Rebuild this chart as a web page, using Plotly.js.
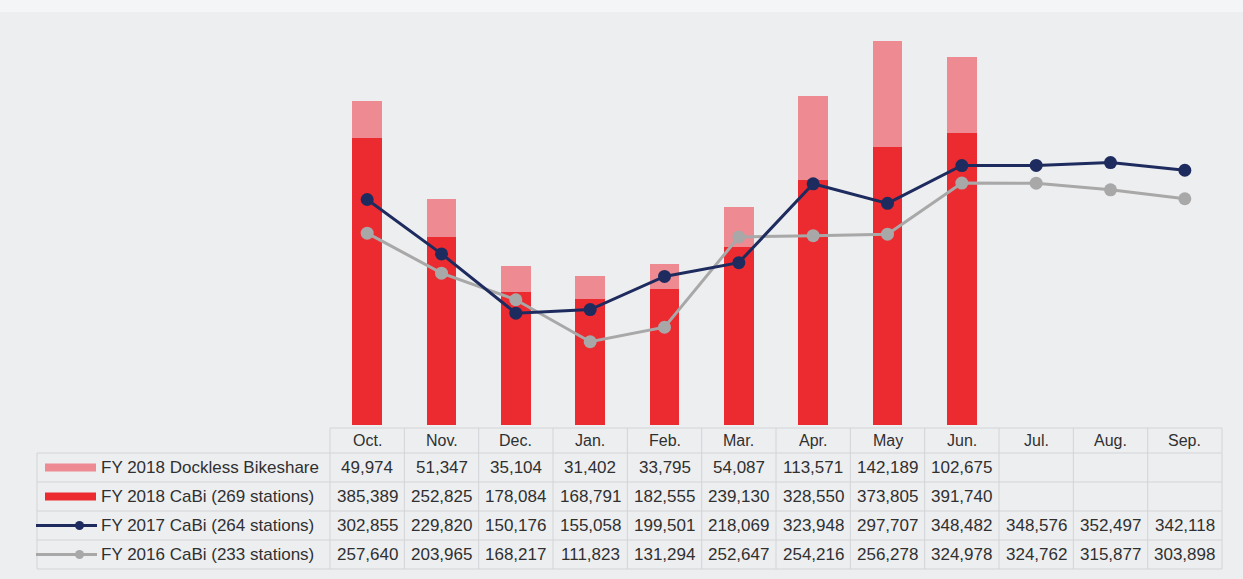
<!DOCTYPE html>
<html>
<head>
<meta charset="utf-8">
<script src="https://cdn.plot.ly/plotly-3.0.1.min.js"></script>
<style>
html,body{margin:0;padding:0;background:#EDEEF0;}
#chart{width:1243px;height:579px;}
</style>
</head>
<body>
<div id="chart"></div>
<script>
const categories = ['Oct.','Nov.','Dec.','Jan.','Feb.','Mar.','Apr.','May','Jun.','Jul.','Aug.','Sep.'];
const dockless2018 = [49974, 51347, 35104, 31402, 33795, 54087, 113571, 142189, 102675];
const cabi2018 = [385389, 252825, 178084, 168791, 182555, 239130, 328550, 373805, 391740];
const cabi2017 = [302855, 229820, 150176, 155058, 199501, 218069, 323948, 297707, 348482, 348576, 352497, 342118];
const cabi2016 = [257640, 203965, 168217, 111823, 131294, 252647, 254216, 256278, 324978, 324762, 315877, 303898];
const seriesLabels = ['FY 2018 Dockless Bikeshare','FY 2018 CaBi (269 stations)','FY 2017 CaBi (264 stations)','FY 2016 CaBi (233 stations)'];

const C_PINK = '#EE8A92', C_RED = '#EC2B30', C_NAVY = '#1E2B5E', C_GRAY = '#A8A8A8';
const BG = '#EDEEF0', GRID = '#D3D4D7', TXT = '#303030';
const FONT = 'Liberation Sans, Arial, sans-serif';

const W = 1243, H = 579, ML = 330, MR = 21, MT = 14, MB = 154;
const PW = W - ML - MR, PH = H - MT - MB;
const n = categories.length;
const px = x => (x - ML) / PW;
const py = y => (H - MB - y) / PH;
const colCenter = i => (i + 0.5) / n;
const colEdge = i => i / n;

const traces = [
  {type:'bar', x: categories.slice(0, cabi2018.length), y: cabi2018, marker:{color:C_RED}, width:0.4, name: seriesLabels[1], hoverinfo:'y'},
  {type:'bar', x: categories.slice(0, dockless2018.length), y: dockless2018, marker:{color:C_PINK}, width:0.4, name: seriesLabels[0], hoverinfo:'y'},
  {type:'scatter', mode:'lines+markers', x: categories, y: cabi2016, line:{color:C_GRAY, width:3}, marker:{color:C_GRAY, size:13}, name: seriesLabels[3]},
  {type:'scatter', mode:'lines+markers', x: categories, y: cabi2017, line:{color:C_NAVY, width:3}, marker:{color:C_NAVY, size:13}, name: seriesLabels[2]}
];

// table geometry (pixel rows)
const headerTop = 428, rowH = 29, headerBottom = 453;
const rowTop = r => headerBottom + r * rowH;
const rowMid = r => rowTop(r) + rowH / 2;
const tableLeft = 37;

const shapes = [];
const annotations = [];
const line = (x0,y0,x1,y1) => shapes.push({type:'line', xref:'paper', yref:'paper', x0, y0, x1, y1, line:{color:GRID, width:1}});

// top light strip
shapes.push({type:'rect', xref:'paper', yref:'paper', x0:px(0), x1:px(W), y0:py(0), y1:py(12), fillcolor:'#F4F5F7', line:{width:0}, layer:'below'});

// horizontal lines
line(px(ML), py(headerTop), 1, py(headerTop));
for (let r = 0; r <= 4; r++) line(px(tableLeft), py(rowTop(r)), 1, py(rowTop(r)));
// vertical lines
line(px(tableLeft), py(headerBottom), px(tableLeft), py(rowTop(4)));
for (let i = 0; i <= n; i++) line(colEdge(i), py(headerTop), colEdge(i), py(rowTop(4)));

// header labels
categories.forEach((c, i) => annotations.push({xref:'paper', yref:'paper', x: colCenter(i), y: py((headerTop + headerBottom) / 2), text: c, showarrow:false, xanchor:'center', yanchor:'middle', font:{family:FONT, size:16, color:TXT}}));

// table rows
const rows = [dockless2018, cabi2018, cabi2017, cabi2016];
rows.forEach((vals, r) => {
  annotations.push({xref:'paper', yref:'paper', x: px(99), y: py(rowMid(r)), text: seriesLabels[r], showarrow:false, xanchor:'left', yanchor:'middle', font:{family:FONT, size:17, color:TXT}});
  vals.forEach((v, i) => annotations.push({xref:'paper', yref:'paper', x: colCenter(i), y: py(rowMid(r)), text: v.toLocaleString('en-US'), showarrow:false, xanchor:'center', yanchor:'middle', font:{family:FONT, size:17, color:TXT}}));
});

// legend symbols
const symColors = [C_PINK, C_RED, C_NAVY, C_GRAY];
[0,1].forEach(r => shapes.push({type:'rect', xref:'paper', yref:'paper', x0:px(45), x1:px(96), y0:py(rowMid(r)-4), y1:py(rowMid(r)+4), fillcolor:symColors[r], line:{width:0}}));
[2,3].forEach(r => {
  shapes.push({type:'line', xref:'paper', yref:'paper', x0:px(36), x1:px(97), y0:py(rowMid(r)), y1:py(rowMid(r)), line:{color:symColors[r], width:3}});
  shapes.push({type:'circle', xref:'paper', yref:'paper', x0:px(75), x1:px(84), y0:py(rowMid(r)-4.5), y1:py(rowMid(r)+4.5), fillcolor:symColors[r], line:{width:0}});
});

const layout = {
  width: W, height: H,
  margin:{l:ML, r:MR, t:MT, b:MB, pad:0},
  paper_bgcolor: BG, plot_bgcolor: BG,
  barmode:'stack',
  showlegend:false,
  xaxis:{type:'category', categoryarray: categories, categoryorder:'array', range:[-0.5, n - 0.5], showticklabels:false, showgrid:false, zeroline:false, showline:false, ticks:''},
  yaxis:{range:[0, 552000], showticklabels:false, showgrid:false, zeroline:false, showline:false, ticks:''},
  shapes, annotations,
  font:{family:FONT, color:TXT}
};

Plotly.newPlot('chart', traces, layout, {displayModeBar:false, staticPlot:true});
</script>
</body>
</html>
